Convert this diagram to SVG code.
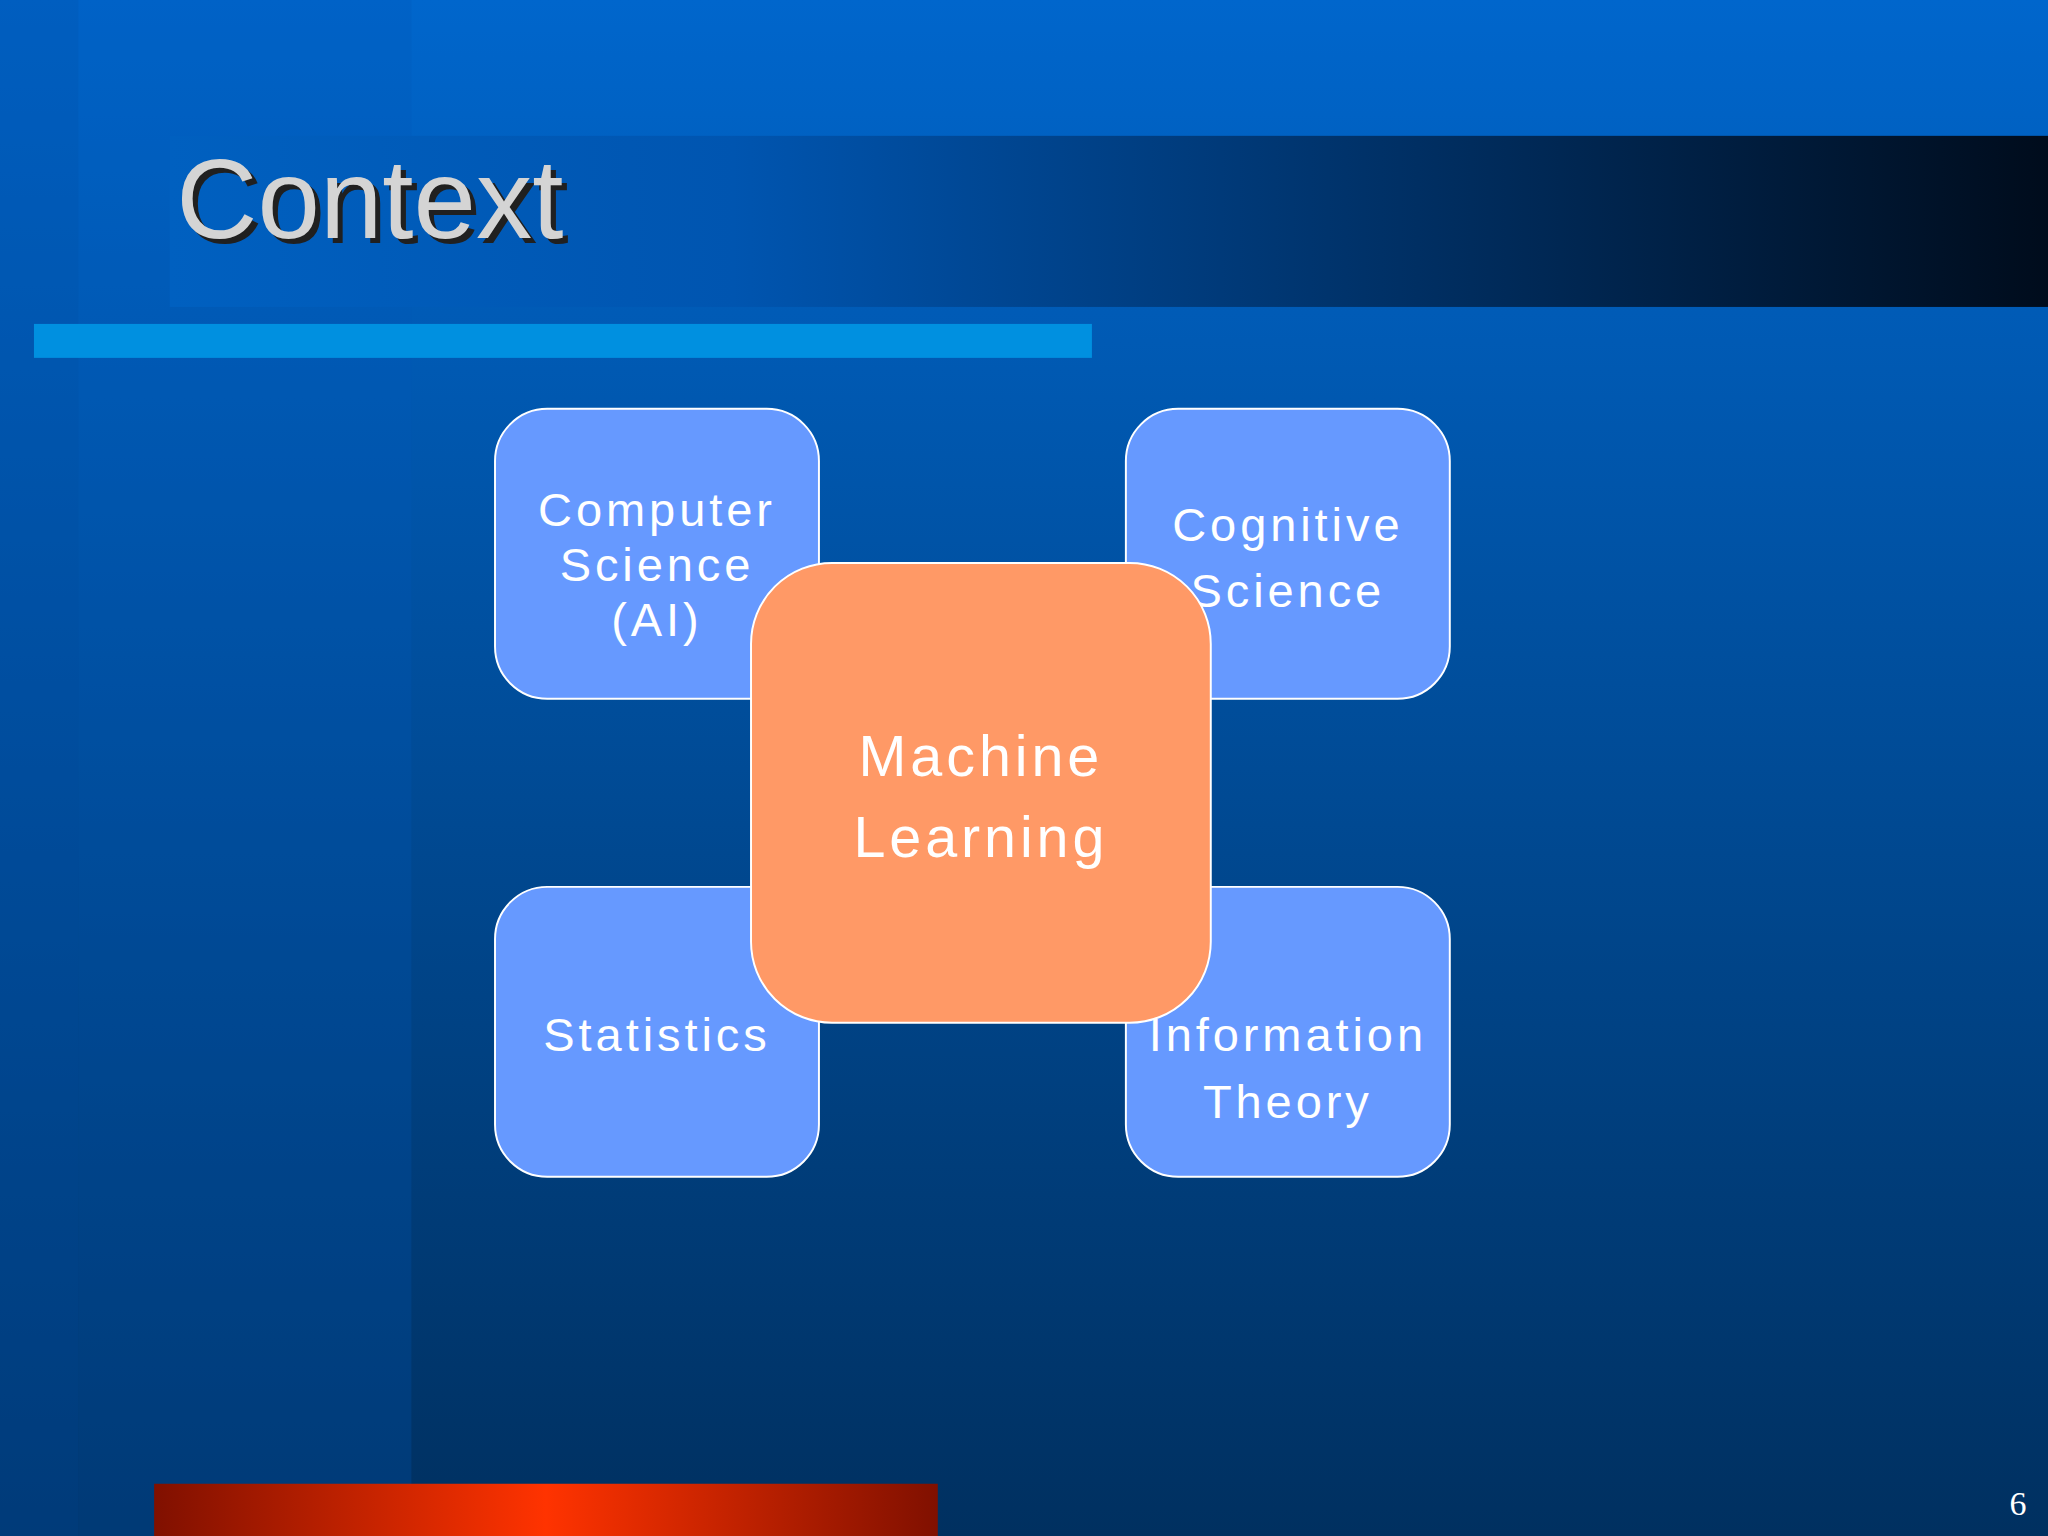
<svg xmlns="http://www.w3.org/2000/svg" width="2048" height="1536" viewBox="0 0 2048 1536">
<defs>
<linearGradient id="bg" x1="0" y1="0" x2="0" y2="1"><stop offset="0" stop-color="#0066cc"/><stop offset="1" stop-color="#003060"/></linearGradient>
<linearGradient id="band" x1="0" y1="0" x2="1" y2="0"><stop offset="0" stop-color="#0060c0"/><stop offset="0.3" stop-color="#0055b0"/><stop offset="1" stop-color="#000c1c"/></linearGradient>
<linearGradient id="red" x1="0" y1="0" x2="1" y2="0"><stop offset="0" stop-color="#801000"/><stop offset="0.5" stop-color="#ff3300"/><stop offset="1" stop-color="#801000"/></linearGradient>
<style>
.box{fill:#6699ff;stroke:#ffffff;stroke-width:1.5}
.t{font-family:"Liberation Sans",Arial,sans-serif;fill:#fff;font-size:36px;letter-spacing:3px;text-anchor:middle}
</style>
</defs>
<g transform="scale(1.30612)">
<rect width="1568" height="1176" fill="url(#bg)"/>
<rect x="0" y="0" width="60" height="1176" fill="#0050a8" opacity="0.35"/>
<rect x="60" y="0" width="255" height="1176" fill="#0058b8" opacity="0.25"/>
<rect x="130" y="104" width="1438" height="131" fill="url(#band)"/>
<text x="139" y="186" font-family="Liberation Sans,Arial,sans-serif" font-size="86" fill="#202020">Context</text>
<text x="135" y="182" font-family="Liberation Sans,Arial,sans-serif" font-size="86" fill="#d4d4d4">Context</text>
<rect x="26" y="248" width="810" height="26" fill="#0090e0"/>
<g id="cs"><rect class="box" x="379" y="313" width="248" height="222" rx="40"/><text class="t" x="503" y="403">Computer</text><text class="t" x="503" y="445">Science</text><text class="t" x="503" y="487">(AI)</text></g>
<g id="cog"><rect class="box" x="862" y="313" width="248" height="222" rx="40"/><text class="t" x="986" y="414">Cognitive</text><text class="t" x="986" y="465">Science</text></g>
<g id="stat"><rect class="box" x="379" y="679" width="248" height="222" rx="40"/><text class="t" x="503" y="805">Statistics</text></g>
<g id="info"><rect class="box" x="862" y="679" width="248" height="222" rx="40"/><text class="t" x="986" y="805">Information</text><text class="t" x="986" y="856">Theory</text></g>
<g id="ml"><rect x="575" y="431" width="352" height="352" rx="62" fill="#ff9966" stroke="#fff" stroke-width="1.5"/><text class="t" x="751" y="594" style="font-size:44px">Machine</text><text class="t" x="751" y="656" style="font-size:44px">Learning</text></g>
<g id="connectors"/>
<rect x="118" y="1136" width="600" height="40" fill="url(#red)"/>
<text x="1545" y="1160" font-family="Liberation Serif,serif" font-size="26" fill="#fff" text-anchor="middle">6</text>
</g>
</svg>
